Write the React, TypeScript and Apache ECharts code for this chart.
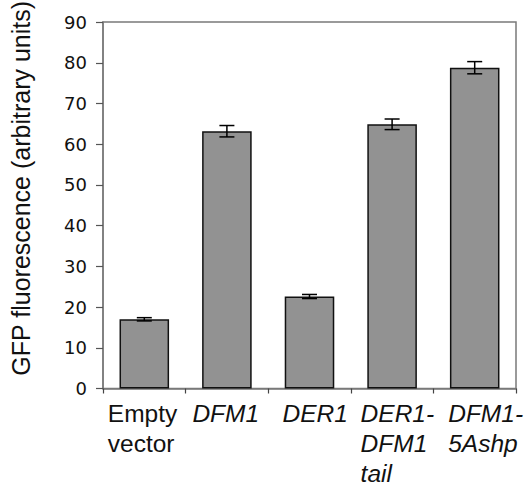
import React, { useEffect, useRef } from "react";
import * as echarts from "echarts";

const categories = ["Empty vector", "DFM1", "DER1", "DER1-DFM1 tail", "DFM1-5Ashp"];
const labelLines = [["Empty", "vector"], ["DFM1"], ["DER1"], ["DER1-", "DFM1", "tail"], ["DFM1-", "5Ashp"]];
const values = [17.0, 63.2, 22.6, 64.9, 78.8];
const errors = [0.4, 1.4, 0.5, 1.3, 1.5];
const yTicks = [0, 10, 20, 30, 40, 50, 60, 70, 80, 90];

const labelWidths = [73, 69, 54, 63, 53];

export default function App() {
  const ref = useRef<HTMLDivElement>(null);
  useEffect(() => {
    if (!ref.current) return;
    const chart = echarts.init(ref.current, undefined, { renderer: "svg" });
    const rich: Record<string, any> = {};
    labelWidths.forEach((w, i) => {
      rich["r" + i] = {
        width: w,
        align: "left",
        fontFamily: "Liberation Sans",
        fontSize: 24.5,
        lineHeight: 30,
        fontStyle: i === 0 ? "normal" : "italic",
        color: "#111",
      };
    });
    chart.setOption({
      animation: false,
      grid: {
        left: 95,
        right: 12,
        top: 21,
        bottom: 93,
        show: true,
        borderColor: "#7a7a7a",
        borderWidth: 1.5,
        backgroundColor: "transparent",
      },
      xAxis: {
        type: "category",
        data: categories,
        boundaryGap: true,
        axisLine: { lineStyle: { color: "#7a7a7a", width: 1.5 } },
        axisTick: { show: true, length: 5, inside: false, lineStyle: { color: "#444", width: 1.2 } },
        axisLabel: {
          interval: 0,
          margin: 10,
          align: "center",
          verticalAlign: "top",
          formatter: (_v: string, i: number) =>
            labelLines[i].map((l) => `{r${i}|${l}}`).join("\n"),
          rich,
        },
      },
      yAxis: {
        type: "value",
        min: yTicks[0],
        max: yTicks[yTicks.length - 1],
        interval: 10,
        name: "GFP fluorescence (arbitrary units)",
        nameLocation: "middle",
        nameRotate: 90,
        nameGap: 70,
        nameTextStyle: {
          fontFamily: "Liberation Sans",
          fontSize: 25,
          color: "#111",
          padding: [0, 0, 0, 34],
        },
        splitLine: { show: false },
        axisLine: { show: true, lineStyle: { color: "#7a7a7a", width: 1.5 } },
        axisTick: { show: true, length: 7, inside: false, lineStyle: { color: "#555", width: 1.2 } },
        axisLabel: {
          fontFamily: "DejaVu Sans",
          fontSize: 18,
          color: "#111",
          margin: 16,
        },
      },
      series: [
        {
          type: "bar",
          data: values,
          barWidth: "60%",
          itemStyle: { color: "#929292", borderColor: "#111", borderWidth: 1.5 },
          z: 2,
        },
        {
          type: "custom",
          z: 3,
          data: values.map((v, i) => [i, v - errors[i], v + errors[i]]),
          renderItem: (params: any, api: any) => {
            const x = api.value(0);
            const lo = api.coord([x, api.value(1)]);
            const hi = api.coord([x, api.value(2)]);
            const hw = 7.5;
            const style = { stroke: "#000", lineWidth: 1.5 };
            return {
              type: "group",
              children: [
                { type: "line", shape: { x1: lo[0], y1: lo[1], x2: hi[0], y2: hi[1] }, style },
                { type: "line", shape: { x1: hi[0] - hw, y1: hi[1], x2: hi[0] + hw, y2: hi[1] }, style },
                { type: "line", shape: { x1: lo[0] - hw, y1: lo[1], x2: lo[0] + hw, y2: lo[1] }, style },
              ],
            };
          },
        },
      ],
    });
    return () => chart.dispose();
  }, []);
  return <div ref={ref} style={{ width: 528, height: 486, position: "absolute", left: 0, top: 0 }} />;
}
